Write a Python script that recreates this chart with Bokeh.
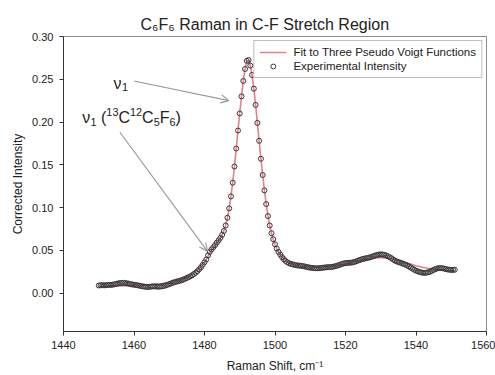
import numpy as np
from bokeh.plotting import figure
from bokeh.models import (Label, Arrow, OpenHead, Legend, LegendItem, FixedTicker,
                          NumeralTickFormatter, Range1d, ColumnDataSource)
from bokeh.embed import file_html
from bokeh.resources import INLINE

# ---------------- data ----------------
title_text = "C\u2086F\u2086 Raman in C-F Stretch Region"
x_label = "Raman Shift, cm\u207b\u00b9"
y_label = "Corrected Intensity"
fit_label = "Fit to Three Pseudo Voigt Functions"
exp_label = "Experimental Intensity"
# annotation texts as (run, kind) pieces: n = normal, sub = subscript, sup = superscript, gap = space
note_main = [("\u03bd", "n"), ("1", "sub")]
note_iso = [("\u03bd", "n"), ("1", "sub"), (" ", "gap"), ("(", "n"), ("13", "sup"), ("C", "n"),
            ("12", "sup"), ("C", "n"), ("5", "sub"), ("F", "n"), ("6", "sub"), (")", "n")]

x_ticks = [1440, 1460, 1480, 1500, 1520, 1540, 1560]
y_ticks = [0.00, 0.05, 0.10, 0.15, 0.20, 0.25, 0.30]

# Raman shift grid (cm-1), 0.5 cm-1 sampling from 1450 to 1551
shift = np.arange(1450.0, 1551.01, 0.5)

experimental = [
    0.0088, 0.0090, 0.0092, 0.0090, 0.0091, 0.0094, 0.0096, 0.0095, 0.0098, 0.0102,   # 1450-1454.5
    0.0108, 0.0112, 0.0116, 0.0118, 0.0119, 0.0117, 0.0113, 0.0110, 0.0104, 0.0100,   # 1455-1459.5
    0.0097, 0.0094, 0.0090, 0.0086, 0.0082, 0.0078, 0.0074, 0.0072, 0.0071, 0.0073,   # 1460-1464.5
    0.0076, 0.0078, 0.0077, 0.0075, 0.0074, 0.0076, 0.0079, 0.0083, 0.0089, 0.0096,   # 1465-1469.5
    0.0104, 0.0112, 0.0120, 0.0127, 0.0133, 0.0138, 0.0143, 0.0150, 0.0158, 0.0167,   # 1470-1474.5
    0.0176, 0.0186, 0.0196, 0.0208, 0.0222, 0.0238, 0.0256, 0.0278, 0.0302, 0.0330,   # 1475-1479.5
    0.0360, 0.0392, 0.0440, 0.0480, 0.0510, 0.0535, 0.0560, 0.0590, 0.0615, 0.0645,   # 1480-1484.5
    0.0680, 0.0725, 0.0790, 0.0880, 0.0990, 0.1130, 0.1290, 0.1480, 0.1690, 0.1900,   # 1485-1489.5
    0.2100, 0.2300, 0.2480, 0.2620, 0.2715, 0.2725, 0.2660, 0.2550, 0.2390, 0.2200,   # 1490-1494.5
    0.1990, 0.1780, 0.1570, 0.1380, 0.1200, 0.1040, 0.0900, 0.0790, 0.0700, 0.0630,   # 1495-1499.5
    0.0570, 0.0520, 0.0480, 0.0450, 0.0420, 0.0395, 0.0375, 0.0360, 0.0348, 0.0340,   # 1500-1504.5
    0.0335, 0.0330, 0.0325, 0.0322, 0.0320, 0.0318, 0.0314, 0.0310, 0.0305, 0.0300,   # 1505-1509.5
    0.0297, 0.0294, 0.0291, 0.0290, 0.0289, 0.0290, 0.0292, 0.0295, 0.0298, 0.0300,   # 1510-1514.5
    0.0302, 0.0303, 0.0305, 0.0308, 0.0312, 0.0318, 0.0325, 0.0332, 0.0340, 0.0346,   # 1515-1519.5
    0.0350, 0.0352, 0.0353, 0.0355, 0.0358, 0.0363, 0.0370, 0.0378, 0.0386, 0.0393,   # 1520-1524.5
    0.0399, 0.0404, 0.0408, 0.0412, 0.0418, 0.0425, 0.0432, 0.0440, 0.0446, 0.0450,   # 1525-1529.5
    0.0452, 0.0451, 0.0447, 0.0440, 0.0430, 0.0420, 0.0408, 0.0393, 0.0380, 0.0370,   # 1530-1534.5
    0.0362, 0.0355, 0.0348, 0.0340, 0.0331, 0.0321, 0.0310, 0.0298, 0.0285, 0.0272,   # 1535-1539.5
    0.0262, 0.0254, 0.0246, 0.0240, 0.0237, 0.0236, 0.0238, 0.0243, 0.0250, 0.0260,   # 1540-1544.5
    0.0270, 0.0280, 0.0287, 0.0291, 0.0292, 0.0290, 0.0286, 0.0280, 0.0275, 0.0272,   # 1545-1549.5
    0.0270, 0.0271, 0.0272,                                                           # 1550-1551
]

fit = [
    0.0078, 0.0078, 0.0079, 0.0079, 0.0080, 0.0080, 0.0081, 0.0081, 0.0082, 0.0082,
    0.0083, 0.0083, 0.0084, 0.0084, 0.0085, 0.0085, 0.0086, 0.0087, 0.0087, 0.0088,
    0.0089, 0.0090, 0.0090, 0.0091, 0.0092, 0.0093, 0.0094, 0.0095, 0.0096, 0.0097,
    0.0099, 0.0100, 0.0102, 0.0104, 0.0106, 0.0108, 0.0110, 0.0113, 0.0116, 0.0119,
    0.0122, 0.0126, 0.0130, 0.0135, 0.0140, 0.0145, 0.0151, 0.0158, 0.0165, 0.0173,
    0.0182, 0.0192, 0.0203, 0.0215, 0.0229, 0.0245, 0.0263, 0.0283, 0.0305, 0.0330,
    0.0358, 0.0390, 0.0430, 0.0468, 0.0500, 0.0528, 0.0555, 0.0585, 0.0612, 0.0643,
    0.0680, 0.0727, 0.0792, 0.0880, 0.0992, 0.1130, 0.1292, 0.1480, 0.1688, 0.1900,
    0.2105, 0.2300, 0.2480, 0.2620, 0.2712, 0.2722, 0.2658, 0.2548, 0.2390, 0.2200,
    0.1990, 0.1780, 0.1572, 0.1380, 0.1202, 0.1042, 0.0902, 0.0790, 0.0700, 0.0628,
    0.0568, 0.0520, 0.0480, 0.0448, 0.0420, 0.0398, 0.0380, 0.0365, 0.0352, 0.0342,
    0.0334, 0.0327, 0.0322, 0.0318, 0.0314, 0.0311, 0.0309, 0.0307, 0.0305, 0.0304,
    0.0303, 0.0302, 0.0302, 0.0302, 0.0302, 0.0303, 0.0304, 0.0305, 0.0306, 0.0308,
    0.0310, 0.0312, 0.0314, 0.0316, 0.0319, 0.0322, 0.0325, 0.0329, 0.0333, 0.0337,
    0.0341, 0.0345, 0.0350, 0.0354, 0.0359, 0.0364, 0.0369, 0.0374, 0.0379, 0.0384,
    0.0389, 0.0393, 0.0397, 0.0401, 0.0404, 0.0407, 0.0409, 0.0411, 0.0412, 0.0413,
    0.0413, 0.0412, 0.0411, 0.0409, 0.0406, 0.0403, 0.0399, 0.0395, 0.0390, 0.0385,
    0.0380, 0.0374, 0.0368, 0.0362, 0.0356, 0.0350, 0.0344, 0.0338, 0.0332, 0.0326,
    0.0320, 0.0315, 0.0310, 0.0305, 0.0300, 0.0296, 0.0292, 0.0288, 0.0285, 0.0282,
    0.0279, 0.0276, 0.0274, 0.0272, 0.0270, 0.0268, 0.0266, 0.0264, 0.0262, 0.0260,
    0.0258, 0.0256, 0.0254,
]

# annotation anchor points (data units): text baseline-left positions and arrow start/end
note_main_pos = (1454.2, 0.2456)
note_iso_pos = (1445.3, 0.2048)
arrow_main = (1460.0, 0.248, 1486.9, 0.225)
arrow_iso = (1456.0, 0.188, 1480.8, 0.049)

# ---------------- plot ----------------
FONT = "Liberation Sans"
TEXT = "#222222"
src = ColumnDataSource(dict(x=shift, exp=experimental, fit=fit))

p = figure(width=495, height=375, x_range=Range1d(1440, 1560), y_range=Range1d(-0.045, 0.30),
           output_backend="svg", toolbar_location=None, title=title_text,
           min_border_left=63, min_border_right=9, min_border_top=36, min_border_bottom=43)
p.background_fill_color = "white"
p.border_fill_color = "white"
p.xgrid.visible = False
p.ygrid.visible = False
p.outline_line_color = "#8c8c8c"
p.outline_line_width = 1

p.title.text_font = FONT
p.title.text_font_size = "16px"
p.title.text_font_style = "normal"
p.title.text_color = TEXT
p.title.align = "left"
p.title.offset = 77
p.title.standoff = 8

fit_r = p.line("x", "fit", source=src, line_color="#e2808c", line_width=1.6)
exp_r = p.scatter("x", "exp", source=src, marker="circle", size=5,
                  line_color="#383838", line_width=1, fill_alpha=0)

for ax in (p.xaxis[0], p.yaxis[0]):
    ax.axis_line_color = "#333333"
    ax.major_tick_line_color = "#333333"
    ax.major_tick_out = 4
    ax.major_tick_in = 0
    ax.minor_tick_line_color = None
    ax.major_label_text_font = FONT
    ax.major_label_text_font_size = "11px"
    ax.major_label_text_color = TEXT
    ax.axis_label_text_font = FONT
    ax.axis_label_text_font_size = "12px"
    ax.axis_label_text_font_style = "normal"
    ax.axis_label_text_color = TEXT

p.xaxis.ticker = FixedTicker(ticks=x_ticks)
p.yaxis.ticker = FixedTicker(ticks=y_ticks)
p.yaxis.formatter = NumeralTickFormatter(format="0.00")
p.xaxis.axis_label = x_label
p.yaxis.axis_label = y_label
p.xaxis.major_label_standoff = 5
p.yaxis.major_label_standoff = 6
p.xaxis.axis_label_standoff = 7
p.yaxis.axis_label_standoff = 4

# rich-text annotation built from runs (Arial-metric advance widths, per em)
ADV = {"\u03bd": 0.52, " ": 0.278, "(": 0.333, ")": 0.333, "C": 0.722, "F": 0.611}


def rich_label(pos, runs, size=16):
    dx = 0.0
    for txt, kind in runs:
        fs = size if kind in ("n", "gap") else size * 0.68
        if kind != "gap":
            dy = 0 if kind == "n" else (-4 if kind == "sub" else 6)
            p.add_layout(Label(x=pos[0], y=pos[1], x_offset=dx, y_offset=dy, text=txt,
                               text_font=FONT, text_font_size=f"{fs:.1f}px",
                               text_baseline="alphabetic", text_color=TEXT))
        dx += sum(ADV.get(c, 0.556) for c in txt) * fs


rich_label(note_main_pos, note_main)
rich_label(note_iso_pos, note_iso)

for (xs, ys, xe, ye) in (arrow_main, arrow_iso):
    p.add_layout(Arrow(x_start=xs, y_start=ys, x_end=xe, y_end=ye, line_color="#9a9a9a",
                       line_width=1.2,
                       end=OpenHead(size=8, line_color="#9a9a9a", line_width=1.2)))

legend = Legend(items=[LegendItem(label=fit_label, renderers=[fit_r]),
                       LegendItem(label=exp_label, renderers=[exp_r])],
                location="top_right", margin=4, padding=5, spacing=2,
                glyph_width=27, glyph_height=12, label_height=12, label_standoff=7,
                label_text_font=FONT, label_text_font_size="11.5px", label_text_color=TEXT,
                border_line_color="#808080", border_line_width=1, background_fill_alpha=1)
p.add_layout(legend)

open("out.html", "w").write(file_html(p, INLINE))
